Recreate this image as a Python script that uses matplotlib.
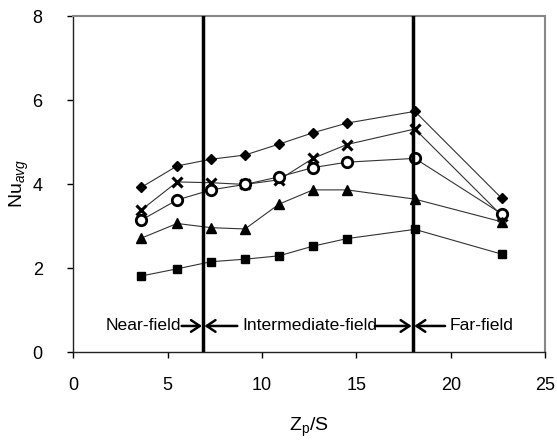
import numpy as np
import matplotlib.pyplot as plt

plt.rcParams['font.family'] = ['Liberation Sans', 'DejaVu Sans']
plt.rcParams['mathtext.fontset'] = 'custom'
plt.rcParams['mathtext.rm'] = 'Liberation Sans'
plt.rcParams['mathtext.it'] = 'Liberation Sans:italic'

# Zp/S positions
zp = [3.6, 5.5, 7.3, 9.1, 10.9, 12.7, 14.5, 18.1, 22.7]

nu_diamond = [3.92, 4.43, 4.59, 4.69, 4.95, 5.22, 5.45, 5.73, 3.66]
nu_cross = [3.38, 4.05, 4.03, 3.99, 4.10, 4.61, 4.94, 5.31, 3.25]
nu_circle = [3.14, 3.62, 3.86, 3.99, 4.17, 4.39, 4.52, 4.61, 3.29]
nu_triangle = [2.71, 3.06, 2.96, 2.93, 3.52, 3.86, 3.86, 3.64, 3.10]
nu_square = [1.81, 1.98, 2.15, 2.21, 2.29, 2.52, 2.70, 2.92, 2.33]

zone_bounds = [6.88, 18.0]

fig = plt.figure(figsize=(5.57, 4.4), dpi=100)
ax = fig.add_axes([0.1316, 0.2, 0.847, 0.7636])

line_kw = dict(color='#333333', lw=0.8)
ax.plot(zp, nu_diamond, marker='D', ms=5.5, mfc='black', mec='black', **line_kw)
ax.plot(zp, nu_cross, marker='x', ms=7, mew=2.2, mec='black', **line_kw)
ax.plot(zp, nu_circle, marker='o', ms=7.5, mfc='white', mec='black', mew=2, **line_kw)
ax.plot(zp, nu_triangle, marker='^', ms=7, mfc='black', mec='black', **line_kw)
ax.plot(zp, nu_square, marker='s', ms=5.5, mfc='black', mec='black', **line_kw)

for xb in zone_bounds:
    ax.axvline(xb, color='black', lw=2.5, zorder=5)

ax.set_xlim(0, 25)
ax.set_ylim(0, 8)
ax.set_xticks(np.arange(0, 26, 5))
ax.set_yticks(np.arange(0, 9, 2))
ax.tick_params(labelsize=13, length=4, width=1, direction='out')
ax.tick_params(axis='x', pad=14)
ax.tick_params(axis='y', pad=18)

for s in ['left', 'bottom']:
    ax.spines[s].set_color('#222222')
    ax.spines[s].set_linewidth(1)
for s in ['top', 'right']:
    ax.spines[s].set_color('#888888')
    ax.spines[s].set_linewidth(1.5)

ax.set_xlabel(r'Z$_\mathrm{p}$/S', fontsize=14, labelpad=16)
ax.set_ylabel(r'Nu$_{\mathit{avg}}$', fontsize=14, labelpad=1)

# zone labels with arrows
ty = 0.62
ax.text(3.69, ty, 'Near-field', fontsize=12.6, ha='center', va='center')
ax.text(12.52, ty, 'Intermediate-field', fontsize=12.6, ha='center', va='center')
ax.text(21.63, ty, 'Far-field', fontsize=12.6, ha='center', va='center')

arrow_kw = dict(arrowstyle='->, head_length=0.45, head_width=0.3', color='black',
                lw=1.8, mutation_scale=14, shrinkA=0, shrinkB=0)
for x0, x1 in [(5.74, 6.82), (8.69, 6.95), (15.98, 17.93), (19.7, 18.07)]:
    ax.annotate('', xy=(x1, ty), xytext=(x0, ty), arrowprops=arrow_kw)

fig.savefig('out.png', dpi=100)
